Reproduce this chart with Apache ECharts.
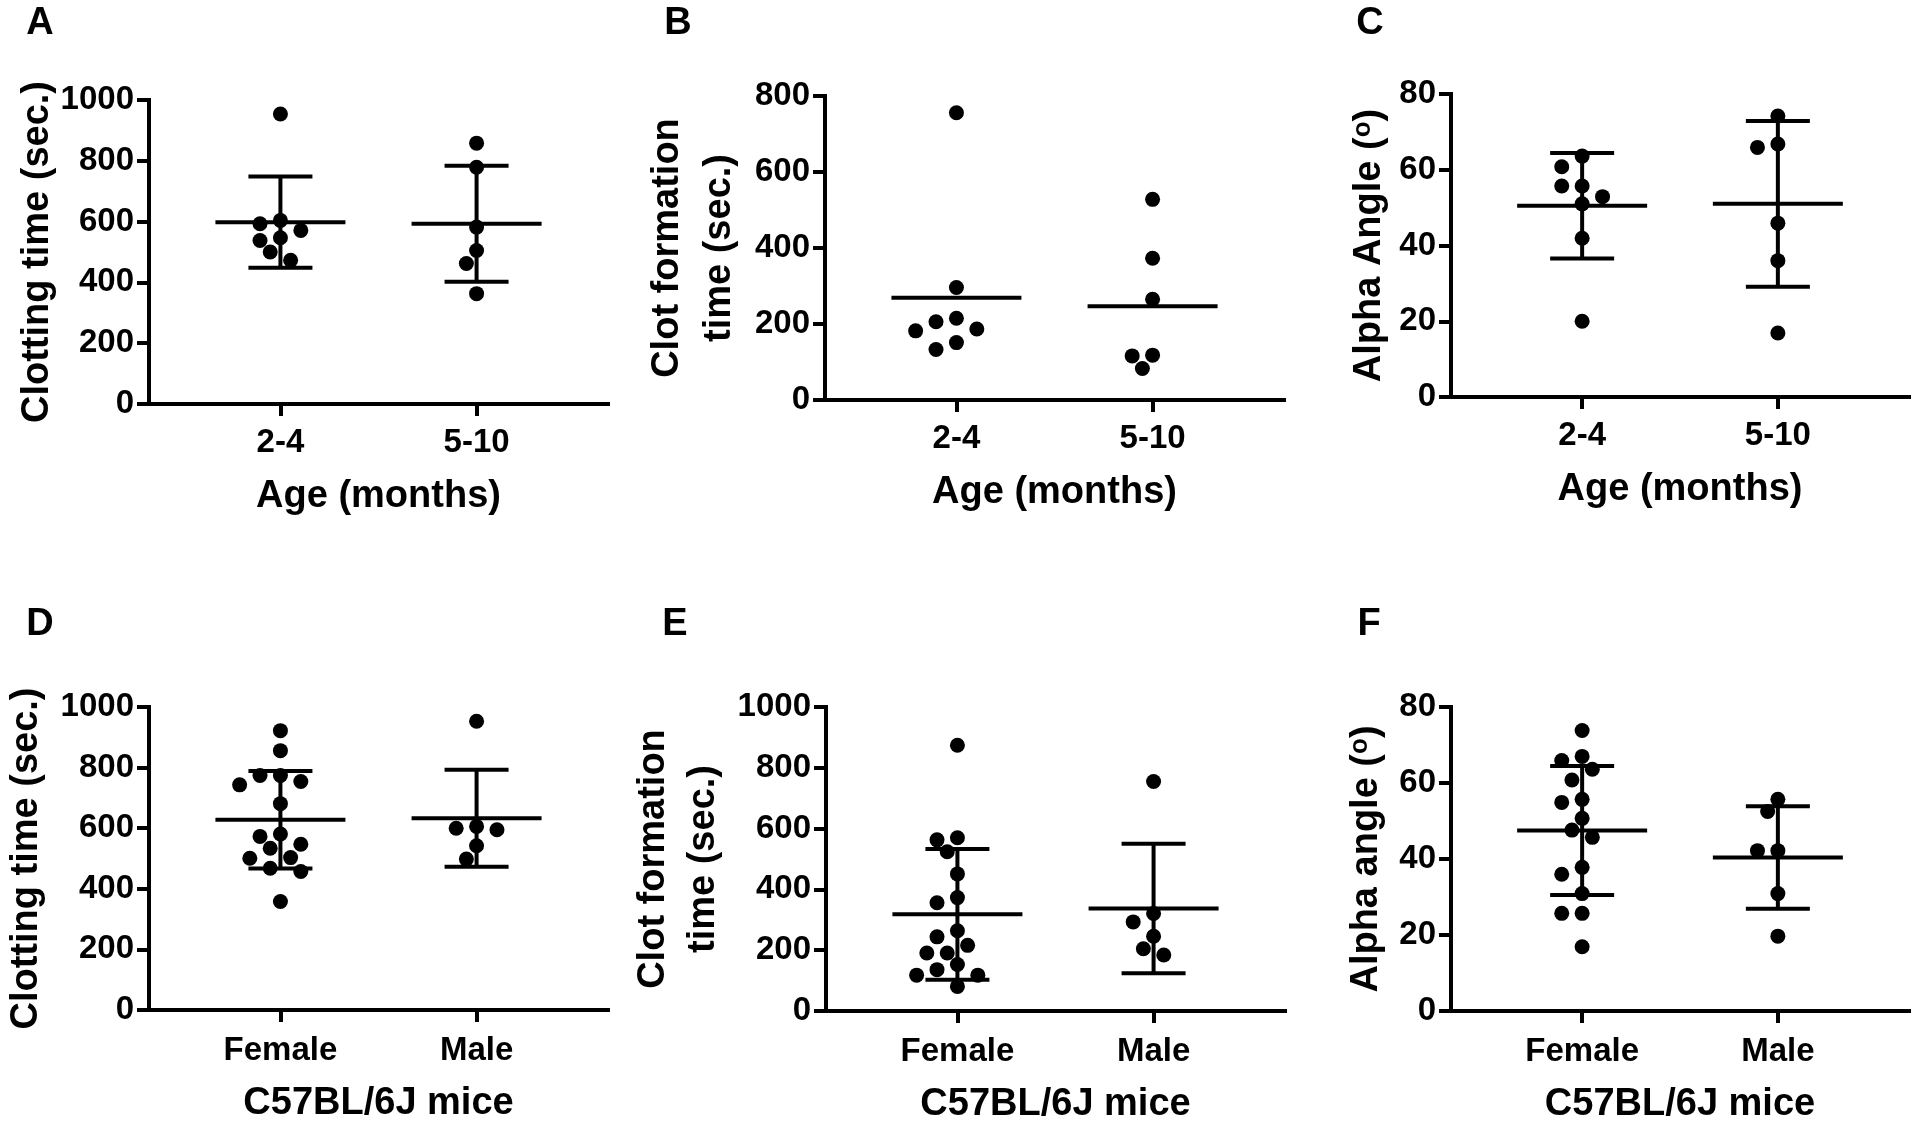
<!DOCTYPE html>
<html><head><meta charset="utf-8">
<script src="https://cdn.jsdelivr.net/npm/echarts@6/dist/echarts.min.js"></script>
<style>html,body{margin:0;padding:0;background:#fff}#c{width:1920px;height:1125px}</style>
</head><body><div id="c"></div>
<script>
// ---------- data ----------
const AGE_GROUPS = ['2-4', '5-10'];
const SEX_GROUPS = ['Female', 'Male'];

const clotAge_2_4  = [954, 604, 593, 571, 547, 538, 500, 473];
const clotAge_5_10 = [858, 779, 582, 505, 462, 363];
const clotAgeMean  = [598, 593];
const clotAgeSD    = [150, 191];

const cftAge_2_4   = [756, 296, 215, 206, 187, 182, 151, 133];
const cftAge_5_10  = [528, 373, 265, 118, 116, 83];
const cftAgeMean   = [269, 247];
const cftAgeSD     = [null, null];

const alphaAge_2_4  = [63.6, 60.8, 55.7, 55.7, 52.9, 51.0, 41.9, 20.0];
const alphaAge_5_10 = [74.2, 66.8, 65.9, 45.9, 36.0, 16.9];
const alphaAgeMean  = [50.5, 51.0];
const alphaAgeSD    = [13.9, 21.9];

const clotFemale  = [922, 856, 774, 774, 754, 743, 681, 581, 573, 547, 534, 503, 501, 468, 457, 358];
const clotMale    = [953, 606, 600, 595, 542, 498];
const clotSexMean = [628, 633];
const clotSexSD   = [161, 160];

const cftFemale  = [874, 570, 563, 524, 451, 373, 356, 264, 244, 216, 191, 191, 153, 136, 118, 118, 81];
const cftMale    = [755, 321, 293, 246, 205, 184];
const cftSexMean = [318, 337];
const cftSexSD   = [215, 213];

const alphaFemale  = [73.8, 67.0, 65.9, 63.6, 60.8, 55.7, 54.9, 50.7, 47.6, 45.7, 37.8, 36.0, 30.9, 25.7, 25.7, 16.9];
const alphaMale    = [55.7, 52.5, 42.2, 42.2, 30.9, 19.7];
const alphaSexMean = [47.5, 40.4];
const alphaSexSD   = [17.0, 13.5];

const yMaxes     = [1000, 800, 80, 1000, 1000, 80];
const yIntervals = [200, 200, 20, 200, 200, 20];

// ---------- layout ----------
const FONT = '"Liberation Sans", Arial, Helvetica, sans-serif';
const X_MIN = 0.33, X_MAX = 2.67;
const DOT = 15;

const panels = [
  { letter: 'A', lp: [40, 24],  grid: { left: 149, top: 100, width: 459, height: 304 }, cats: AGE_GROUPS,
    groups: [clotAge_2_4, clotAge_5_10], mean: clotAgeMean, sd: clotAgeSD,
    yName: 'Clotting time (sec.)', yGap: 91, yLH: 40, xName: 'Age (months)', lm: 22, xGap: 74 },
  { letter: 'B', lp: [678, 24], grid: { left: 825, top: 96, width: 459, height: 304 }, cats: AGE_GROUPS,
    groups: [cftAge_2_4, cftAge_5_10], mean: cftAgeMean, sd: cftAgeSD,
    yName: 'Clot formation\ntime (sec.)', yGap: 79, yLH: 52, xName: 'Age (months)', lm: 22, xGap: 74 },
  { letter: 'C', lp: [1370, 24], grid: { left: 1451, top: 94, width: 458, height: 303 }, cats: AGE_GROUPS,
    groups: [alphaAge_2_4, alphaAge_5_10], mean: alphaAgeMean, sd: alphaAgeSD,
    yName: 'Alpha Angle ({s|o})', yGap: 61, yLH: 40, xName: 'Age (months)', lm: 22, xGap: 74 },
  { letter: 'D', lp: [40, 625], grid: { left: 149, top: 707, width: 459, height: 303 }, cats: SEX_GROUPS,
    groups: [clotFemale, clotMale], mean: clotSexMean, sd: clotSexSD,
    yName: 'Clotting time (sec.)', yGap: 102, yLH: 40, xName: 'C57BL/6J mice', lm: 24, xGap: 75 },
  { letter: 'E', lp: [675, 625], grid: { left: 826, top: 707, width: 459, height: 304 }, cats: SEX_GROUPS,
    groups: [cftFemale, cftMale], mean: cftSexMean, sd: cftSexSD,
    yName: 'Clot formation\ntime (sec.)', yGap: 97, yLH: 50, xName: 'C57BL/6J mice', lm: 24, xGap: 75 },
  { letter: 'F', lp: [1369, 625], grid: { left: 1451, top: 707, width: 458, height: 304 }, cats: SEX_GROUPS,
    groups: [alphaFemale, alphaMale], mean: alphaSexMean, sd: alphaSexSD,
    yName: 'Alpha angle ({s|o})', yGap: 64, yLH: 40, xName: 'C57BL/6J mice', lm: 24, xGap: 75 }
];

// beeswarm: spread points sideways so dots do not overlap
function swarm(values, center, pxPerY, pxPerX) {
  const step = 10.2, D = 15;
  const order = values.map((v, i) => i).sort((a, b) => values[b] - values[a]);
  const placed = [];
  const out = new Array(values.length);
  for (const i of order) {
    const py = values[i] * pxPerY;
    let off = 0;
    for (let k = 0; k < 60; k++) {
      const n = Math.ceil(k / 2);
      const cand = k === 0 ? 0 : (k % 2 ? -n : n) * step;
      if (placed.every(p => (p.x - cand) ** 2 + (p.y - py) ** 2 >= D * D)) { off = cand; break; }
    }
    placed.push({ x: off, y: py });
    out[i] = [center + off / pxPerX, values[i]];
  }
  return out;
}

function meanSdRender(params, api) {
  const x = api.value(0), m = api.value(1), sd = api.value(2);
  const c = api.coord([x, m]);
  const st = { stroke: '#000', lineWidth: 4, lineCap: 'butt' };
  const ch = [{ type: 'line', shape: { x1: c[0] - 65, y1: c[1], x2: c[0] + 65, y2: c[1] }, style: st }];
  if (sd != null && !isNaN(sd)) {
    const t = api.coord([x, m + sd]), b = api.coord([x, m - sd]);
    ch.push({ type: 'line', shape: { x1: c[0], y1: t[1], x2: c[0], y2: b[1] }, style: st });
    ch.push({ type: 'line', shape: { x1: c[0] - 32, y1: t[1], x2: c[0] + 32, y2: t[1] }, style: st });
    ch.push({ type: 'line', shape: { x1: c[0] - 32, y1: b[1], x2: c[0] + 32, y2: b[1] }, style: st });
  }
  return { type: 'group', children: ch };
}

const grids = [], xAxes = [], yAxes = [], series = [], graphics = [];
const axisLine = { show: true, lineStyle: { color: '#000', width: 4, cap: 'square' } };
const tickStyle = { color: '#000', width: 4 };
const labelBase = { color: '#000', fontFamily: FONT, fontWeight: 'bold', fontSize: 33 };

panels.forEach((p, i) => {
  grids.push(Object.assign({ containLabel: false }, p.grid));
  const yMax = yMaxes[i], yInt = yIntervals[i];
  xAxes.push({
    type: 'value', gridIndex: i, min: X_MIN, max: X_MAX,
    axisLine: axisLine, splitLine: { show: false },
    axisTick: { show: true, length: 12, lineStyle: tickStyle, customValues: [1, 2] },
    axisLabel: Object.assign({ margin: p.lm, customValues: [1, 2], formatter: v => p.cats[Math.round(v) - 1] }, labelBase),
    name: p.xName, nameLocation: 'middle', nameGap: p.xGap, nameMoveOverlap: false,
    nameTextStyle: { color: '#000', fontFamily: FONT, fontWeight: 'bold', fontSize: 38 }
  });
  yAxes.push({
    type: 'value', gridIndex: i, min: 0, max: yMax, interval: yInt,
    axisLine: axisLine, splitLine: { show: false },
    axisTick: { show: true, length: 12, lineStyle: tickStyle },
    axisLabel: Object.assign({ margin: 15, formatter: v => String(v) }, labelBase),
    name: p.yName, nameLocation: 'middle', nameRotate: 90, nameGap: p.yGap, nameMoveOverlap: false,
    nameTextStyle: {
      color: '#000', fontFamily: FONT, fontWeight: 'bold', fontSize: 38, lineHeight: p.yLH, align: 'center',
      rich: { s: { color: '#000', fontFamily: FONT, fontWeight: 'bold', fontSize: 26, verticalAlign: 'top', lineHeight: p.yLH } }
    }
  });
  const pxPerY = p.grid.height / yMax;
  const pxPerX = p.grid.width / (X_MAX - X_MIN);
  p.groups.forEach((vals, g) => {
    series.push({
      type: 'scatter', xAxisIndex: i, yAxisIndex: i, symbol: 'circle', symbolSize: DOT,
      itemStyle: { color: '#000', opacity: 1 }, silent: true, z: 3,
      data: swarm(vals, g + 1, pxPerY, pxPerX)
    });
  });
  series.push({
    type: 'custom', xAxisIndex: i, yAxisIndex: i, silent: true, z: 2,
    renderItem: meanSdRender,
    data: p.mean.map((m, g) => [g + 1, m, p.sd[g] == null ? '-' : p.sd[g]])
  });
  graphics.push({
    type: 'text', x: p.lp[0], y: p.lp[1],
    style: { text: p.letter, fill: '#000', font: 'bold 38px ' + FONT, align: 'center', verticalAlign: 'middle' }
  });
});

const chart = echarts.init(document.getElementById('c'), null, { renderer: 'canvas' });
chart.setOption({
  backgroundColor: '#fff',
  animation: false,
  grid: grids, xAxis: xAxes, yAxis: yAxes, series: series, graphic: graphics
});
</script>
</body></html>
